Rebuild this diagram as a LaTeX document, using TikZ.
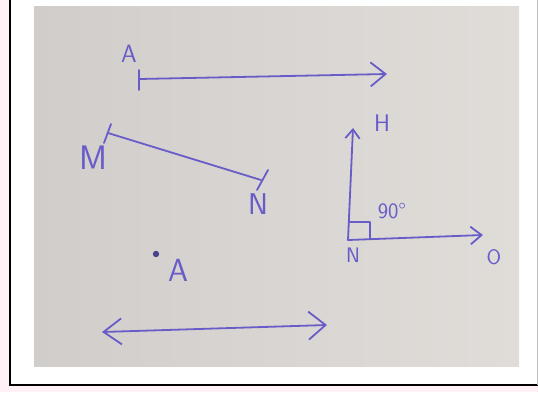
\documentclass[tikz,border=0pt]{standalone}
\usetikzlibrary{arrows.meta}
\definecolor{ink}{RGB}{104,92,200}
\definecolor{paperL}{RGB}{209,205,203}
\definecolor{paperR}{RGB}{224,221,217}
\definecolor{blush}{RGB}{255,241,246}
\begin{document}
\begin{tikzpicture}[
  x=1pt,y=-1pt,
  pen/.style={draw=ink,line width=1.8pt,line cap=round,line join=round},
  lbl/.style={text=ink,inner sep=0pt,font=\sffamily\fontsize{#1}{#1}\selectfont},
  lbl/.default=26,
  barb/.style={-{Straight Barb[length=#1,width=1.6*#1]}}
]
\useasboundingbox (0,0) rectangle (538,392);
% frame and photo
\fill[blush] (0,0) rectangle (538,392);
\fill[white] (10,0) rectangle (537,385);
\draw[black,line width=2.5pt] (10,0) -- (10,385) -- (538,385);
\draw[gray!50,line width=0.8pt] (537,0) -- (537,385);
\shade[left color=paperL,right color=paperR] (34,6) rectangle (519,366);

% ray
\coordinate (rA) at (139,79);
\coordinate (rEnd) at (387,74);
\draw[pen,barb=15pt] (rA) -- (rEnd);
\draw[pen] (139,70) -- (139,90);
\node[lbl=25] (labA) at (129,54) {A};

% segment MN
\coordinate (sM) at (108,133);
\coordinate (sN) at (261,180);
\draw[pen] (sM) -- (sN);
\draw[pen] (111,124) -- (104,143);
\draw[pen] (268,170) -- (257,190);
\node[lbl=34] (labM) at (93,158) {M};
\node[lbl=30] (labN) at (258,204) {N};

% right angle
\coordinate (vN) at (348,240);
\coordinate (vH) at (353,128);
\coordinate (vO) at (483,235);
\draw[pen,barb=9pt] (vN) -- (vH);
\draw[pen,barb=11pt] (vN) -- (vO);
\draw[pen,line width=1.4pt] (349,222) -- (370,222) -- (370,239);
\node[lbl=24] (labH) at (382,123) {H};
\node[lbl=21] (labN2) at (353,255) {N};
\node[lbl=21] (labO) at (494,257) {O};
\node[lbl=22] (lab90) at (392,211) {90\textdegree};

% point
\fill[ink!70!black] (156,254) circle (3.2pt);
\node[lbl=32] (labP) at (178,270) {A};

% line
\coordinate (lL) at (102,332);
\coordinate (lR) at (327,325);
\draw[pen,{Straight Barb[length=18pt,width=26pt]}-{Straight Barb[length=17pt,width=28pt]}] (lL) -- (lR);
\end{tikzpicture}
\end{document}
